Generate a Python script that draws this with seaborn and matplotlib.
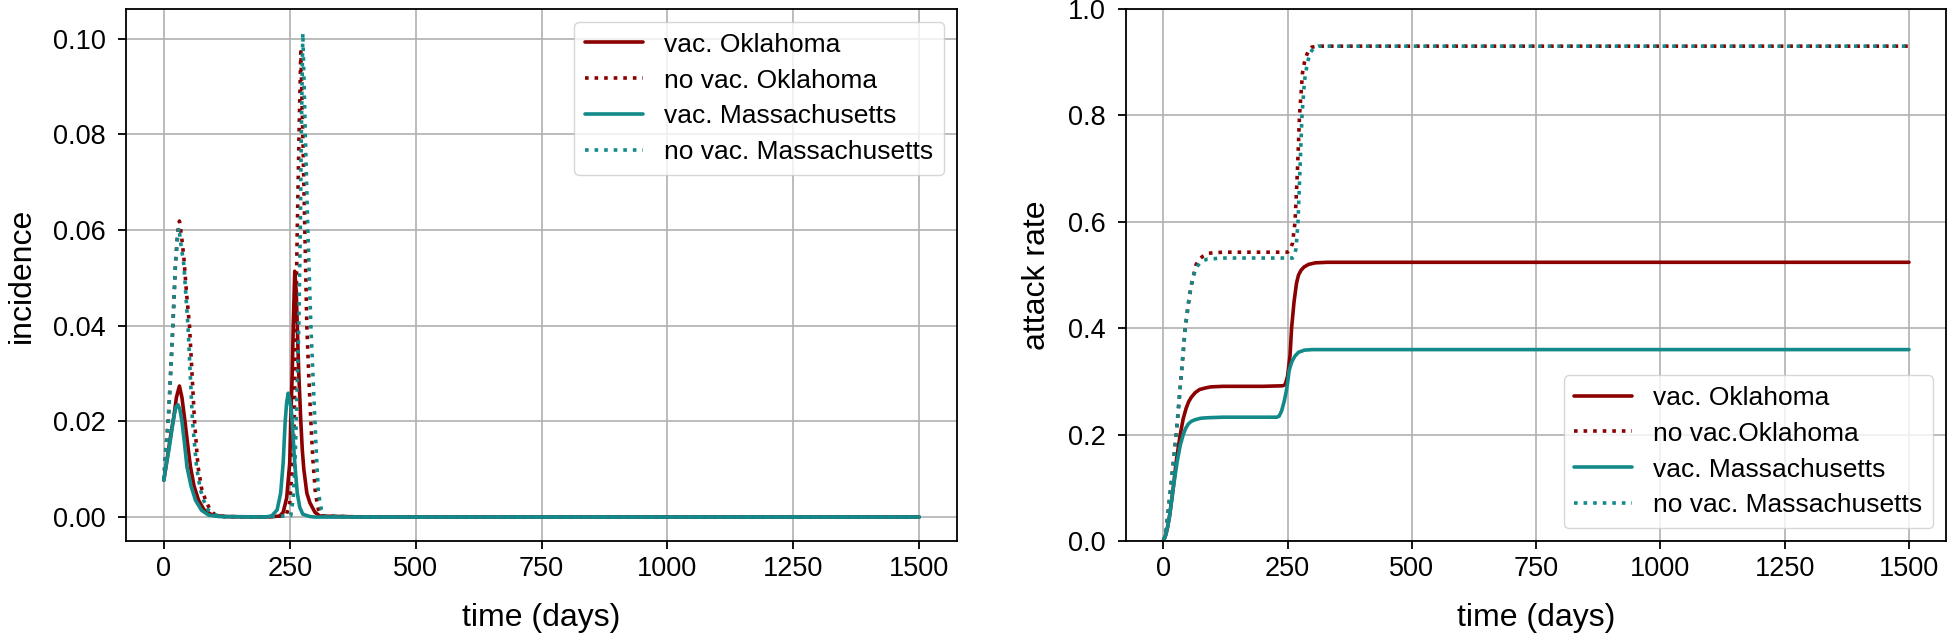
import seaborn as sns
import matplotlib.pyplot as plt

# colours for the two states
red = '#8B0000'
teal = '#138A8A'

# ---- incidence (left panel) ----
inc_vac_ok_days = [0, 5, 10, 15, 20, 25, 31, 36, 42, 47, 53, 60, 69, 80, 96, 120, 200,
                   230, 237, 244, 250, 252, 255, 257, 260, 263, 265, 268, 272, 275, 278,
                   284, 290, 300, 310, 400, 1500]
inc_vac_ok = [0.0077, 0.011, 0.0145, 0.018, 0.021, 0.025, 0.0274, 0.025, 0.02, 0.0155,
              0.0105, 0.0065, 0.0035, 0.0015, 0.0004, 0.0001, 0.0,
              0.0002, 0.001, 0.004, 0.0113, 0.02, 0.03, 0.04, 0.0514, 0.047, 0.04, 0.03,
              0.02, 0.014, 0.01, 0.005, 0.003, 0.001, 0.0002, 0.0, 0.0]

inc_novac_ok_days = [0, 4, 9, 13, 18, 23, 27, 31, 35, 40, 45, 51, 56, 61, 68, 75, 83, 92,
                     100, 120, 200, 243, 250, 255, 259, 262, 265, 268.5, 272, 276, 280,
                     284, 288, 292, 296, 301, 307, 313, 400, 1500]
inc_novac_ok = [0.0077, 0.014, 0.0205, 0.029, 0.04, 0.0526, 0.059, 0.0619, 0.059, 0.054,
                0.047, 0.04, 0.03, 0.02, 0.0105, 0.006, 0.0035, 0.0015, 0.0006, 0.0001,
                0.0, 0.0003, 0.003, 0.01, 0.02, 0.04, 0.06, 0.08, 0.0973, 0.08, 0.06,
                0.04, 0.029, 0.02, 0.012, 0.005, 0.0015, 0.0002, 0.0, 0.0]

inc_vac_ma_days = [0, 5, 10, 15, 20, 24, 28, 32, 36, 41, 46, 54, 63, 75, 89, 110, 200,
                   214, 225, 232, 237, 241, 244, 247, 250, 253, 255, 258, 260, 265, 270,
                   276, 290, 300, 400, 1500]
inc_vac_ma = [0.0077, 0.011, 0.014, 0.0175, 0.021, 0.023, 0.0235, 0.0225, 0.02, 0.0155,
              0.0105, 0.0065, 0.0035, 0.0014, 0.0004, 0.0001, 0.0,
              0.0002, 0.0015, 0.005, 0.0113, 0.02, 0.024, 0.0259, 0.0245, 0.0225, 0.02,
              0.0145, 0.0113, 0.005, 0.002, 0.0006, 0.0001, 0.0, 0.0, 0.0]

inc_novac_ma_days = [0, 4, 9, 13, 18, 23, 27, 30, 34, 40, 44, 48, 53, 57, 65, 72, 79, 88,
                     99, 120, 200, 252, 257, 260, 263, 266, 268, 271, 273, 276, 281, 286,
                     292, 296, 300, 304, 307, 313, 319, 400, 1500]
inc_novac_ma = [0.0077, 0.014, 0.02, 0.0288, 0.04, 0.0526, 0.058, 0.0605, 0.057, 0.0526,
                0.046, 0.04, 0.0288, 0.02, 0.0105, 0.006, 0.0035, 0.0015, 0.0005, 0.0001,
                0.0, 0.0003, 0.004, 0.01, 0.02, 0.032, 0.04, 0.06, 0.08, 0.1012, 0.08,
                0.06, 0.04, 0.03, 0.02, 0.011, 0.005, 0.0015, 0.0002, 0.0, 0.0]

# ---- attack rate (right panel) ----
ar_vac_ok_days = [0, 5, 9, 13, 20, 26, 34, 40, 46, 51, 56, 64, 73, 85, 96, 120, 200, 240,
                  245, 250, 255, 258, 263, 268, 272, 277, 283, 292, 306, 330, 1500]
ar_vac_ok = [0.0, 0.012, 0.028, 0.05, 0.1, 0.15, 0.2, 0.23, 0.25, 0.262, 0.27, 0.279,
             0.285, 0.288, 0.29, 0.291, 0.291, 0.292, 0.294, 0.31, 0.35, 0.4, 0.45, 0.485,
             0.5, 0.509, 0.515, 0.52, 0.523, 0.524, 0.524]

ar_novac_ok_days = [0, 5, 11, 16, 21, 26, 30, 35, 40, 44, 51, 56, 61, 66, 73, 79, 90, 120,
                    250, 253, 256, 260, 265, 270, 274, 280, 285, 292, 298, 310, 1500]
ar_novac_ok = [0.0, 0.015, 0.066, 0.11, 0.155, 0.2, 0.245, 0.3, 0.355, 0.4, 0.45, 0.48,
               0.5, 0.52, 0.53, 0.535, 0.541, 0.543, 0.543, 0.545, 0.55, 0.56, 0.6, 0.7,
               0.8, 0.88, 0.905, 0.922, 0.928, 0.93, 0.93]

ar_vac_ma_days = [0, 5, 9, 13, 20, 28, 34, 40, 45, 50, 56, 63, 75, 89, 120, 200, 228, 233,
                  238, 243, 247, 250, 253, 257, 260, 265, 272, 284, 300, 1500]
ar_vac_ma = [0.0, 0.012, 0.028, 0.05, 0.1, 0.15, 0.18, 0.2, 0.212, 0.22, 0.225, 0.228,
             0.231, 0.232, 0.233, 0.233, 0.233, 0.235, 0.245, 0.262, 0.28, 0.297, 0.32,
             0.333, 0.34, 0.348, 0.355, 0.359, 0.36, 0.36]

ar_novac_ma_days = [0, 5, 11, 16, 21, 26, 30, 35, 40, 44, 51, 56, 61, 67, 73, 80, 89, 120,
                    260, 263, 267, 271, 275, 279, 284, 290, 296, 302, 312, 1500]
ar_novac_ma = [0.0, 0.015, 0.066, 0.11, 0.155, 0.2, 0.245, 0.3, 0.355, 0.4, 0.45, 0.48,
               0.5, 0.515, 0.522, 0.527, 0.53, 0.532, 0.532, 0.534, 0.55, 0.6, 0.7, 0.8,
               0.865, 0.9, 0.918, 0.926, 0.93, 0.93]

sns.set_style('ticks')
plt.rcParams['font.family'] = ['Liberation Sans', 'DejaVu Sans']
plt.rcParams['axes.linewidth'] = 1.3
plt.rcParams['text.color'] = 'black'
plt.rcParams['axes.labelcolor'] = 'black'
plt.rcParams['xtick.color'] = 'black'
plt.rcParams['ytick.color'] = 'black'

fig = plt.figure(figsize=(19.6, 6.36), dpi=100)
ax1 = fig.add_axes([0.0643, 0.149, 0.4240, 0.837])
ax2 = fig.add_axes([0.5745, 0.149, 0.4185, 0.837])

lw = 2.6
leg_kw = dict(fontsize=19, framealpha=0.8, labelspacing=0.45, handlelength=2.2,
              handletextpad=0.8, borderaxespad=0.5)

# left panel: incidence
sns.lineplot(x=inc_vac_ok_days, y=inc_vac_ok, ax=ax1, color=red, lw=lw, label='vac. Oklahoma')
sns.lineplot(x=inc_novac_ok_days, y=inc_novac_ok, ax=ax1, color=red, lw=lw, linestyle=':',
             label='no vac. Oklahoma')
sns.lineplot(x=inc_vac_ma_days, y=inc_vac_ma, ax=ax1, color=teal, lw=lw, label='vac. Massachusetts')
sns.lineplot(x=inc_novac_ma_days, y=inc_novac_ma, ax=ax1, color=teal, lw=lw, linestyle=':',
             label='no vac. Massachusetts')
ax1.set_ylabel('incidence', fontsize=23, labelpad=11)
ax1.legend(loc='upper right', **leg_kw)

# right panel: attack rate
sns.lineplot(x=ar_vac_ok_days, y=ar_vac_ok, ax=ax2, color=red, lw=lw, label='vac. Oklahoma')
sns.lineplot(x=ar_novac_ok_days, y=ar_novac_ok, ax=ax2, color=red, lw=lw, linestyle=':',
             label='no vac.Oklahoma')
sns.lineplot(x=ar_vac_ma_days, y=ar_vac_ma, ax=ax2, color=teal, lw=lw, label='vac. Massachusetts')
sns.lineplot(x=ar_novac_ma_days, y=ar_novac_ma, ax=ax2, color=teal, lw=lw, linestyle=':',
             label='no vac. Massachusetts')
ax2.set_ylim(0, 1)
ax2.set_ylabel('attack rate', fontsize=23, labelpad=11)
ax2.legend(loc='lower right', **leg_kw)

for ax in (ax1, ax2):
    ax.set_xticks([0, 250, 500, 750, 1000, 1250, 1500])
    ax.set_xlabel('time (days)', fontsize=23, labelpad=15)
    ax.grid(True, color='#b0b0b0', lw=1.2)
    ax.tick_params(labelsize=19.5, length=5.8, width=1.3)
    ax.tick_params(axis='y', pad=9)
    ax.tick_params(axis='x', pad=5)
    for s in ax.spines.values():
        s.set_color('black')

fig.savefig('out.png', dpi=100)
